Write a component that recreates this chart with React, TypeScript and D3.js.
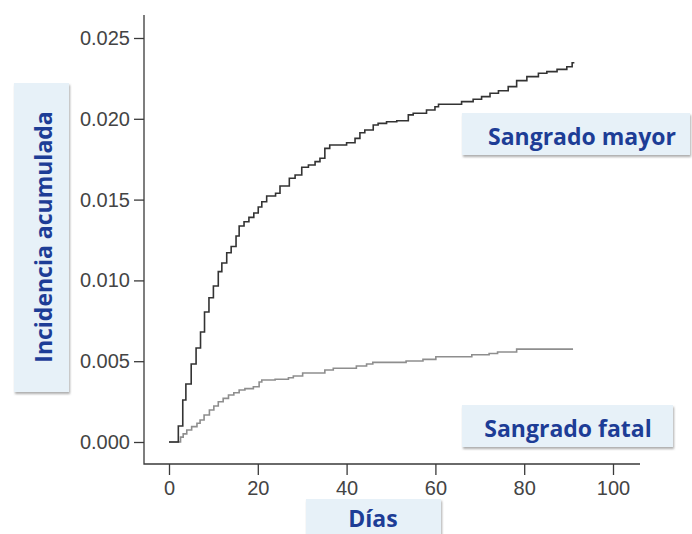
import React, { useEffect, useRef } from 'react';
import * as d3 from 'd3';

// Sangrado mayor: tiempo (días) y incidencia acumulada en cada escalón
const majorDays = [0, 2.1, 3.1, 3.8, 5.0, 6.1, 7.1, 8.0, 9.0, 10.0, 11.1, 11.9, 13.0, 14.0, 15.1, 15.8, 16.9, 18.0, 19.1, 20.1, 20.9, 22.0, 24.0, 25.0, 27.1, 28.4, 29.9, 31.4, 32.9, 34.0, 35.1, 36.2, 40.0, 41.9, 43.0, 44.1, 46.0, 47.1, 49.0, 51.3, 53.9, 55.0, 58.0, 59.9, 60.7, 65.9, 68.5, 70.4, 72.3, 74.2, 76.4, 78.3, 80.6, 83.2, 85.1, 87.4, 89.6, 90.8, 91.3];
const majorValues = [0, 0.00099, 0.0026, 0.00359, 0.00483, 0.00582, 0.00681, 0.00804, 0.00893, 0.00965, 0.01054, 0.01108, 0.01171, 0.0121, 0.01275, 0.01337, 0.01363, 0.0139, 0.01417, 0.01454, 0.01487, 0.01522, 0.01539, 0.01584, 0.01632, 0.01652, 0.017, 0.01714, 0.01735, 0.01756, 0.01817, 0.01838, 0.01852, 0.01879, 0.01914, 0.01931, 0.01962, 0.01972, 0.01982, 0.01988, 0.02024, 0.02034, 0.02054, 0.02075, 0.0209, 0.02106, 0.02121, 0.02137, 0.02158, 0.02174, 0.02199, 0.02236, 0.02261, 0.02282, 0.02292, 0.02306, 0.02322, 0.02347, 0.02347];

// Sangrado fatal
const fatalDays = [0, 2.6, 3.2, 4.0, 5.1, 6.3, 7.0, 7.9, 9.1, 10.1, 11.1, 12.2, 13.4, 14.6, 15.8, 17.1, 19.0, 20.3, 20.9, 23.9, 26.9, 28.0, 30.1, 35.1, 37.0, 42.2, 44.5, 45.9, 53.4, 57.2, 60.1, 68.2, 72.1, 74.0, 78.3, 91.0];
const fatalValues = [0, 0.0003, 0.0005, 0.00074, 0.00095, 0.00116, 0.00136, 0.00167, 0.00198, 0.00223, 0.00249, 0.0027, 0.00291, 0.00305, 0.00322, 0.0033, 0.00342, 0.00371, 0.00384, 0.00388, 0.00398, 0.00408, 0.00427, 0.00446, 0.00456, 0.0047, 0.00483, 0.00493, 0.00501, 0.00511, 0.00528, 0.0054, 0.00548, 0.00557, 0.00575, 0.00575];

const xTicks = [0, 20, 40, 60, 80, 100];
const yTicks = [0, 0.005, 0.01, 0.015, 0.02, 0.025];

const W = 692;
const H = 534;
const LABEL_BLUE = '#1d3d96';
const BOX_FILL = '#e7f1f8';
const LABEL_FONT = '"Open Sans", Lato, sans-serif';

export default function App() {
  const ref = useRef<SVGSVGElement>(null);

  useEffect(() => {
    const svg = d3.select(ref.current);
    svg.selectAll('*').remove();

    const x = d3.scaleLinear().domain([0, 100]).range([169, 613]);
    const y = d3.scaleLinear().domain([0, 0.025]).range([442, 38]);

    const defs = svg.append('defs');
    const f = defs.append('filter').attr('id', 'shadow')
      .attr('x', '-10%').attr('y', '-20%').attr('width', '120%').attr('height', '160%');
    f.append('feDropShadow')
      .attr('dx', 1).attr('dy', 2).attr('stdDeviation', 1.2)
      .attr('flood-color', '#8a8a8a').attr('flood-opacity', 0.7);

    // marco en L
    svg.append('path')
      .attr('d', 'M144,15V464H640')
      .attr('fill', 'none')
      .attr('stroke', '#3a3a3a')
      .attr('stroke-width', 1.3);

    const yAxis = svg.append('g').attr('transform', 'translate(144,0)')
      .call(d3.axisLeft(y).tickValues(yTicks).tickFormat(d3.format('.3f')).tickSize(10).tickPadding(4));
    const xAxis = svg.append('g').attr('transform', 'translate(0,464)')
      .call(d3.axisBottom(x).tickValues(xTicks).tickFormat(d3.format('d')).tickSize(11).tickPadding(6));

    [yAxis, xAxis].forEach(g => {
      g.select('.domain').remove();
      g.selectAll('line').attr('stroke', '#3a3a3a').attr('stroke-width', 1.3);
      g.selectAll('text')
        .attr('fill', '#444')
        .style('font-family', '"Liberation Sans", Arial, sans-serif')
        .style('font-size', '20px');
    });

    const line = d3.line<number>()
      .x(i => x(majorDays[i]))
      .y(i => y(majorValues[i]))
      .curve(d3.curveStepAfter);
    const lineF = d3.line<number>()
      .x(i => x(fatalDays[i]))
      .y(i => y(fatalValues[i]))
      .curve(d3.curveStepAfter);

    svg.append('path')
      .attr('d', lineF(d3.range(fatalDays.length)))
      .attr('fill', 'none')
      .attr('stroke', '#8e8e8e')
      .attr('stroke-width', 1.6);

    svg.append('path')
      .attr('d', line(d3.range(majorDays.length)))
      .attr('fill', 'none')
      .attr('stroke', '#333')
      .attr('stroke-width', 1.6);

    // cajas de etiquetas
    const box = (bx: number, by: number, bw: number, bh: number) =>
      svg.append('rect')
        .attr('x', bx).attr('y', by).attr('width', bw).attr('height', bh)
        .attr('fill', BOX_FILL)
        .attr('filter', 'url(#shadow)');

    const label = (tx: number, ty: number, text: string, rotate = false) =>
      svg.append('text')
        .attr('transform', rotate ? `translate(${tx},${ty}) rotate(-90)` : `translate(${tx},${ty})`)
        .attr('text-anchor', 'middle')
        .attr('fill', LABEL_BLUE)
        .style('font-family', LABEL_FONT)
        .style('font-weight', 700)
        .style('font-size', '23px')
        .text(text);

    box(14, 83, 55, 309);
    label(52, 237, 'Incidencia acumulada', true);

    box(462, 113, 228, 42);
    label(582, 145, 'Sangrado mayor');

    box(462, 405, 211, 42);
    label(568, 437, 'Sangrado fatal');

    box(306, 499, 135, 40);
    label(373, 527, 'Días');
  }, []);

  return (
    <svg
      ref={ref}
      width={W}
      height={H}
      style={{ position: 'absolute', left: 0, top: 0, background: '#fff' }}
    />
  );
}
